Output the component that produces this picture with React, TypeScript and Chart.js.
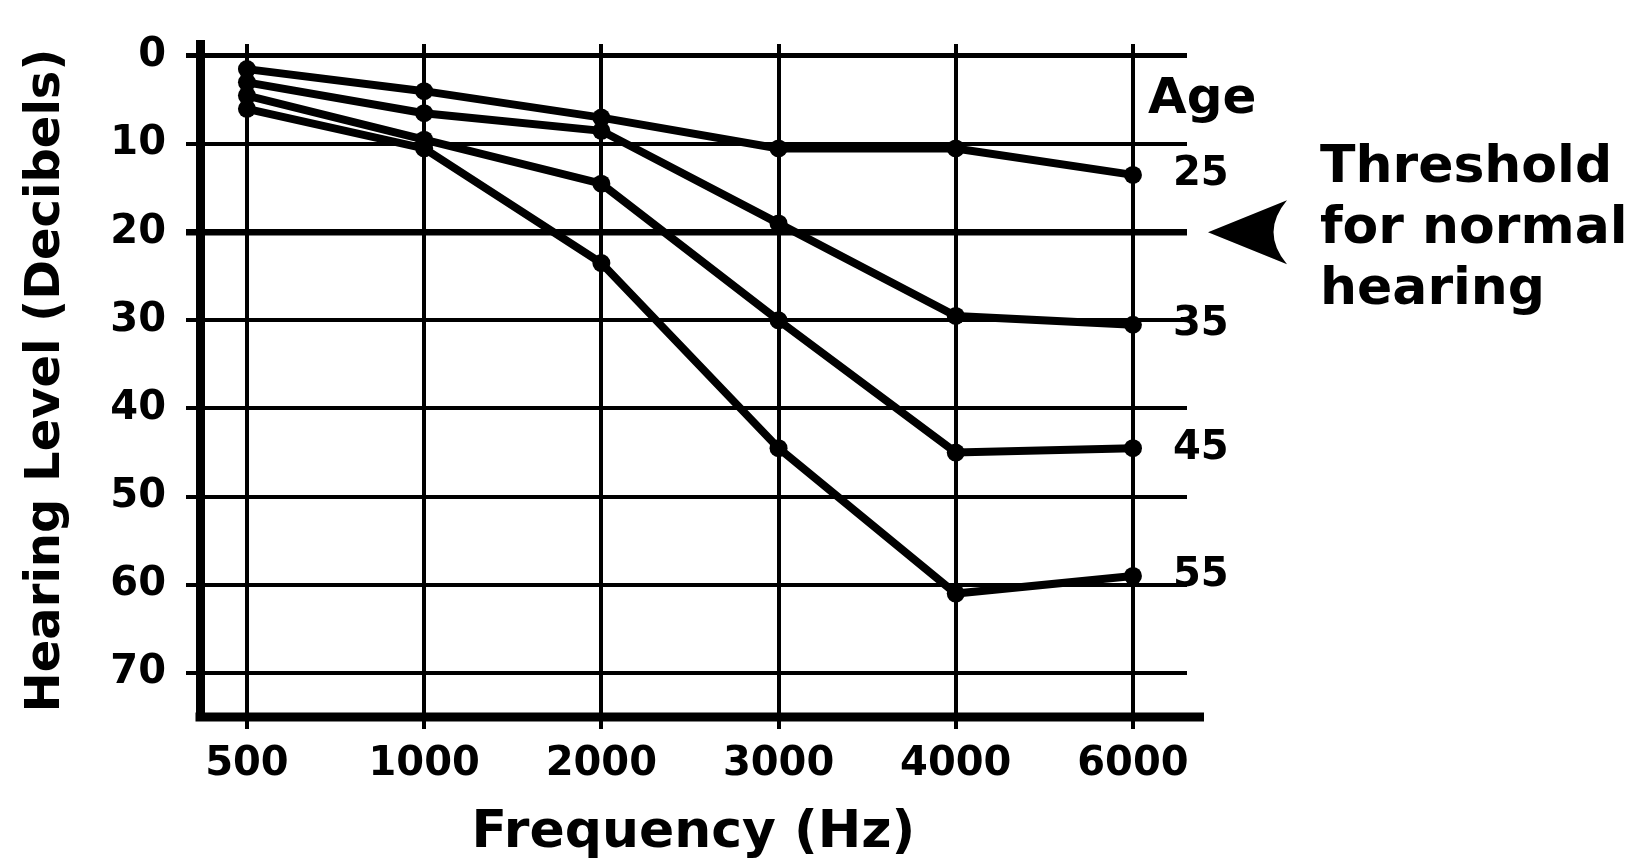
import React, { useEffect, useRef } from 'react';
import { Chart, registerables } from 'chart.js';

Chart.register(...registerables);

// ---- data ----
const freqLabels = ['500', '1000', '2000', '3000', '4000', '6000'];
const ageNames = ['25', '35', '45', '55'];
const age25 = [1.5, 4, 7, 10.5, 10.5, 13.5];
const age35 = [3, 6.5, 8.5, 19, 29.5, 30.5];
const age45 = [4.5, 9.5, 14.5, 30, 45, 44.5];
const age55 = [6, 10.5, 23.5, 44.5, 61, 59];
const yTicks = [0, 10, 20, 30, 40, 50, 60, 70];
const thresholdDb = 20;
const thresholdText = ['Threshold', 'for normal', 'hearing'];
const ageHeader = 'Age';
const xTitle = 'Frequency (Hz)';
const yTitle = 'Hearing Level (Decibels)';

const FONT = '"DejaVu Sans", Verdana, sans-serif';
const series = [age25, age35, age45, age55];

const annotations = {
  id: 'annotations',
  afterDraw(chart: any) {
    const { ctx, chartArea, scales } = chart;
    const xs = scales.x;
    const ys = scales.y;
    ctx.save();
    // bottom axis (extends slightly past the grid)
    ctx.strokeStyle = '#000';
    ctx.lineWidth = 9;
    ctx.beginPath();
    ctx.moveTo(chartArea.left - 4.5, chartArea.bottom);
    ctx.lineTo(chartArea.right + 17, chartArea.bottom);
    ctx.stroke();

    // age labels next to last points
    ctx.fillStyle = '#000';
    ctx.textBaseline = 'middle';
    ctx.textAlign = 'left';
    const lastX = xs.getPixelForValue(freqLabels.length - 1);
    ctx.font = `bold 40px ${FONT}`;
    series.forEach((s, i) => {
      const y = ys.getPixelForValue(s[s.length - 1]);
      ctx.fillText(ageNames[i], lastX + 40, y);
    });
    ctx.font = `bold 50px ${FONT}`;
    const y25 = ys.getPixelForValue(age25[age25.length - 1]);
    ctx.fillText(ageHeader, lastX + 15, y25 - 75);

    // threshold arrow
    const yT = ys.getPixelForValue(thresholdDb);
    const tipX = chartArea.right + 21;
    ctx.beginPath();
    ctx.moveTo(tipX, yT);
    ctx.lineTo(tipX + 79, yT - 32);
    ctx.quadraticCurveTo(tipX + 52, yT, tipX + 79, yT + 32);
    ctx.closePath();
    ctx.fill();

    // threshold text
    ctx.font = `bold 52px ${FONT}`;
    thresholdText.forEach((t, i) => {
      ctx.fillText(t, tipX + 112, yT - 64 + i * 61);
    });
    ctx.restore();
  },
};

export default function App() {
  const ref = useRef<HTMLCanvasElement | null>(null);

  useEffect(() => {
    if (!ref.current) return;
    const chart = new Chart(ref.current, {
      type: 'line',
      data: {
        datasets: series.map((s, i) => ({
          label: ageNames[i],
          data: s.map((v, j) => ({ x: j, y: v })),
          borderColor: '#000',
          backgroundColor: '#000',
          borderWidth: 8,
          pointRadius: 9,
          pointBorderWidth: 0,
          pointBackgroundColor: '#000',
          tension: 0,
        })),
      },
      options: {
        animation: false,
        responsive: true,
        maintainAspectRatio: false,
        devicePixelRatio: 1,
        layout: { padding: { left: 0, top: 37, right: 457, bottom: 0 } },
        plugins: {
          legend: { display: false },
          tooltip: { enabled: false },
        },
        scales: {
          x: {
            type: 'linear',
            min: -0.265,
            max: 5.305,
            afterBuildTicks: (s: any) => {
              s.ticks = freqLabels.map((_, i) => ({ value: i }));
            },
            afterFit: (s: any) => {
              s.height = 142;
            },
            border: { display: false },
            grid: {
              color: '#000',
              lineWidth: 4,
              drawTicks: true,
              tickLength: 12,
            },
            ticks: {
              color: '#000',
              padding: 12,
              maxRotation: 0,
              font: { family: FONT, size: 40, weight: 'bold' },
              callback: (v: any) => freqLabels[v] ?? '',
            },
            title: {
              display: true,
              text: xTitle,
              color: '#000',
              font: { family: FONT, size: 52, weight: 'bold', lineHeight: 1 },
              padding: { top: 0, bottom: 0 },
            },
          },
          y: {
            type: 'linear',
            reverse: true,
            min: -1.35,
            max: 75,
            afterBuildTicks: (s: any) => {
              s.ticks = yTicks.map((v) => ({ value: v }));
            },
            afterFit: (s: any) => {
              s.width = 200;
            },
            border: { display: true, color: '#000', width: 9 },
            grid: {
              color: '#000',
              lineWidth: (c: any) =>
                c.tick && c.tick.value === thresholdDb ? 6.5 : c.tick && c.tick.value === 0 ? 5 : 4,
              drawTicks: true,
              tickLength: 14,
            },
            ticks: {
              color: '#000',
              padding: 20,
              font: { family: FONT, size: 40, weight: 'bold' },
              callback: (v: any) => String(v),
            },
            title: {
              display: true,
              text: yTitle,
              color: '#000',
              font: { family: FONT, size: 48, weight: 'bold', lineHeight: 1.2 },
              padding: { top: 18, bottom: 0 },
            },
          },
        },
      },
      plugins: [annotations],
    } as any);
    return () => chart.destroy();
  }, []);

  return (
    <div
      style={{
        position: 'fixed',
        left: 0,
        top: 0,
        width: 1644,
        height: 859,
        background: '#fff',
      }}
    >
      <canvas ref={ref} />
    </div>
  );
}
